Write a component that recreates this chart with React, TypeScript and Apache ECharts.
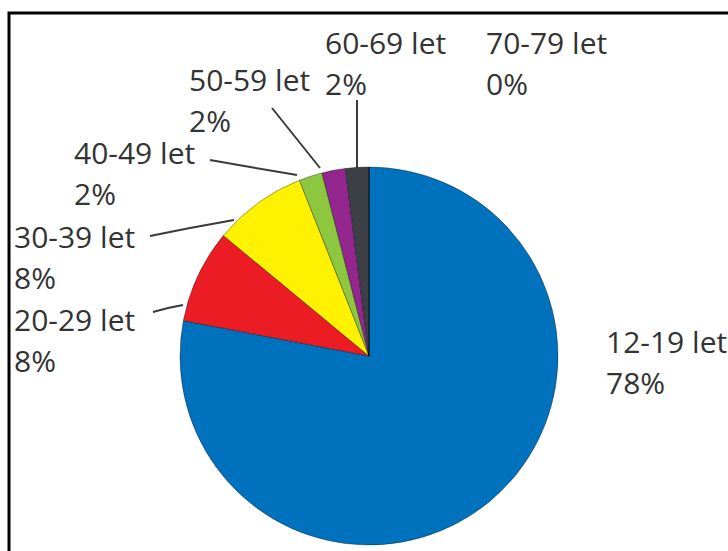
import React, { useEffect, useRef } from "react";
import * as echarts from "echarts";

const categories = ["12-19 let", "20-29 let", "30-39 let", "40-49 let", "50-59 let", "60-69 let", "70-79 let"];
const shares = [78, 8, 8, 2, 2, 2, 0];
const colors = ["#0071BD", "#EC1C24", "#FFF200", "#8DC63F", "#93278F", "#3D4045", "#999999"];

// label placement (top-left of text block) and leader lines, styling only
const labelPos: number[][] = [
  [606, 321],
  [14, 299],
  [14, 216],
  [74, 132],
  [189, 59],
  [325, 22],
  [486, 22],
];
const leaderLines: (number[][] | null)[] = [
  null,
  [[153, 312], [168, 308], [183, 305]],
  [[150, 236], [190, 228], [234, 220]],
  [[210, 160], [250, 167], [297, 175]],
  [[272, 108], [296, 138], [320, 168]],
  [[357, 100], [357, 130], [357, 168]],
  null,
];

export default function App() {
  const ref = useRef<HTMLDivElement>(null);
  useEffect(() => {
    if (!ref.current) return;
    const chart = echarts.init(ref.current, null, { renderer: "svg" });
    chart.setOption({
      animation: false,
      backgroundColor: "#ffffff",
      graphic: [
        {
          type: "rect",
          shape: { x: 9, y: 13, width: 740, height: 560 },
          style: { fill: "none", stroke: "#000", lineWidth: 3 },
          z: 10,
        },
      ],
      series: [
        {
          type: "pie",
          center: [369, 356],
          radius: 189,
          startAngle: 90,
          clockwise: true,
          avoidLabelOverlap: false,
          itemStyle: { borderColor: "rgba(0,0,0,0.35)", borderWidth: 1 },
          label: {
            show: true,
            formatter: "{b}\n{c}%",
            fontFamily: "Open Sans",
            fontSize: 30,
            lineHeight: 41,
            color: "#333333",
          },
          labelLine: { show: true, lineStyle: { color: "#3a3a3a", width: 2 } },
          labelLayout: (p: any) => {
            const i = p.dataIndex;
            const out: any = {
              x: labelPos[i][0],
              y: labelPos[i][1],
              align: "left",
              verticalAlign: "top",
            };
            if (leaderLines[i]) out.labelLinePoints = leaderLines[i];
            return out;
          },
          data: categories.map((c, i) => ({
            name: c,
            value: shares[i],
            itemStyle: { color: colors[i] },
            labelLine: { show: leaderLines[i] !== null },
          })),
        },
      ],
    });
    return () => chart.dispose();
  }, []);
  return (
    <div
      ref={ref}
      style={{ position: "fixed", left: 0, top: 0, width: 728, height: 551 }}
    />
  );
}
